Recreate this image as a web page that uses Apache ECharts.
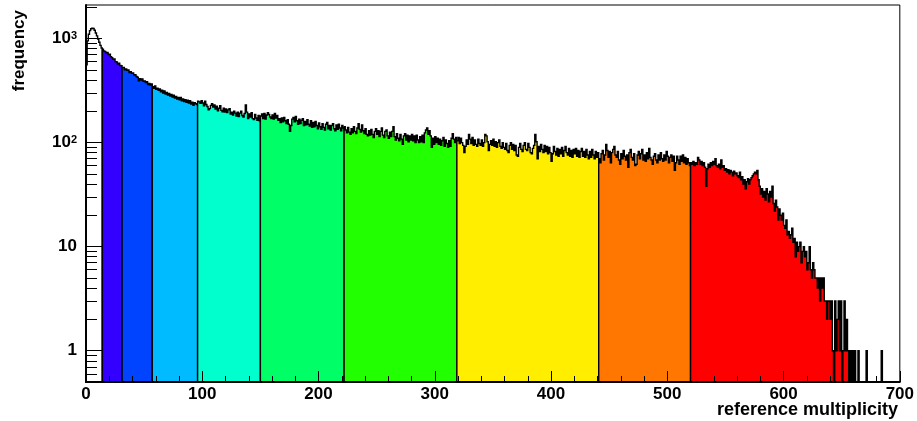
<!DOCTYPE html>
<html><head><meta charset="utf-8">
<script src="https://cdn.jsdelivr.net/npm/echarts@6/dist/echarts.min.js"></script>
<style>html,body{margin:0;padding:0;background:#fff}#c{width:917px;height:421px}</style>
</head><body><div id="c"></div>
<script>
// frequency per reference-multiplicity bin (bin i covers [i, i+1))
const counts = [
/*0*/   560, 950,1100,1190,1240,1260,1250,1200,1130,1060,
/*10*/  990, 920, 860, 810, 790, 760, 750, 730, 735, 700,
/*20*/  705, 670, 655, 630, 635, 600, 595, 570, 580, 550,
/*30*/  548, 525, 528, 500, 510, 495, 498, 470, 480, 462,
/*40*/  468, 445, 450, 432, 425, 392, 410, 400, 408, 388,
/*50*/  392, 378, 385, 362, 370, 358, 365, 345, 332, 350,
/*60*/  326, 334, 318, 328, 308, 318, 300, 314, 292, 304,
/*70*/  286, 296, 280, 290, 274, 286, 268, 278, 262, 272,
/*80*/  258, 272, 252, 262, 248, 258, 244, 256, 240, 252,
/*90*/  234, 244, 228, 242, 236, 232, 250, 246, 238, 252,
/*100*/ 240, 226, 250, 232, 222, 206, 212, 228, 236, 220,
/*110*/ 230, 210, 224, 202, 214, 226, 204, 198, 214, 196,
/*120*/ 210, 194, 206, 212, 188, 196, 184, 200, 192, 180,
/*130*/ 196, 178, 192, 200, 182, 176, 190, 230, 196, 170,
/*140*/ 188, 176, 194, 170, 166, 186, 172, 164, 182, 162,
/*150*/ 180, 188, 170, 190, 168, 184, 194, 186, 176, 170,
/*160*/ 184, 168, 190, 172, 182, 164, 170, 156, 172, 158,
/*170*/ 174, 162, 152, 166, 150, 128, 146, 168, 174, 158,
/*180*/ 178, 162, 150, 168, 152, 164, 170, 146, 160, 148,
/*190*/ 166, 150, 144, 162, 140, 156, 142, 160, 146, 136,
/*200*/ 154, 142, 134, 152, 140, 132, 150, 156, 136, 146,
/*210*/ 132, 146, 152, 136, 130, 148, 134, 150, 138, 130,
/*220*/ 146, 138, 142, 132, 124, 140, 126, 120, 136, 124,
/*230*/ 142, 128, 122, 138, 152, 134, 126, 148, 130, 122,
/*240*/ 136, 120, 116, 130, 118, 134, 120, 112, 128, 136,
/*250*/ 120, 130, 114, 128, 138, 118, 112, 128, 132, 116,
/*260*/ 110, 126, 114, 128, 142, 114, 106, 122, 110, 104,
/*270*/ 120, 108,  96, 116, 122, 106, 118, 102, 116, 106,
/*280*/ 120, 104, 116, 100, 118, 106, 100, 114, 102, 118,
/*290*/ 100, 124, 132, 138, 120, 130, 116,  90, 110,  96,
/*300*/ 114, 100, 110,  96, 108,  94, 104, 112,  92, 106,
/*310*/  98,  90, 104,  92, 110, 122, 108, 100, 112, 104,
/*320*/ 112,  98, 110, 100,  94,  80,  92, 106,  96, 120,
/*330*/ 108,  98, 112,  94, 106,  96,  92, 108,  98,  94,
/*340*/ 106,  92, 100, 120, 116, 102,  84,  96, 104,  94,
/*350*/ 108,  92, 102,  90, 100, 106,  92,  88, 100,  90,
/*360*/  86,  98,  84,  80,  94, 100,  86,  96,  84,  94,
/*370*/  76,  74,  90,  98,  86,  82,  94, 100,  86,  84,
/*380*/  98,  90,  80,  78,  88,  94, 120, 102,  70,  92,
/*390*/  82,  96,  86,  80,  94,  82,  92,  78,  90,  80,
/*400*/  66,  78,  92,  82,  76,  88,  74,  86,  78,  90,
/*410*/  74,  84,  92,  80,  76,  88,  74,  84,  72,  86,
/*420*/  78,  88,  74,  84,  72,  82,  88,  74,  82,  72,
/*430*/  86,  76,  70,  82,  72,  86,  76,  70,  82,  72,
/*440*/  80,  70,  64,  78,  84,  68,  76,  96,  84,  72,
/*450*/  82,  64,  80,  86,  92,  76,  72,  82,  68,  62,
/*460*/  78,  70,  84,  74,  68,  76,  58,  80,  86,  72,
/*470*/  68,  78,  60,  62,  76,  82,  70,  78,  86,  68,
/*480*/  76,  66,  80,  70,  88,  72,  68,  62,  74,  78,
/*490*/  68,  64,  76,  68,  80,  70,  66,  76,  68,  82,
/*500*/  74,  64,  72,  76,  66,  74,  54,  64,  74,  68,
/*510*/  62,  74,  66,  76,  64,  72,  62,  70,  64,  60,
/*520*/  64,  62,  66,  60,  64,  62,  72,  68,  62,  66,
/*530*/  60,  64,  58,  38,  56,  62,  58,  64,  60,  66,
/*540*/  62,  70,  60,  58,  62,  56,  68,  58,  60,  54,
/*550*/  56,  52,  55,  50,  54,  52,  48,  53,  50,  51,
/*560*/  48,  46,  52,  44,  47,  40,  44,  36,  42,  45,
/*570*/  40,  44,  46,  48,  50,  52,  50,  54,  44,  38,
/*580*/  32,  36,  30,  34,  28,  36,  32,  27,  34,  30,
/*590*/  38,  26,  22,  28,  24,  18,  23,  20,  18,  21,
/*600*/  16,  15,  18,  13,  14,  12,  13,  15,  11,  12,
/*610*/   8,  11,   9,  10,  11,   7,   9,  10,   8,   9,
/*620*/   6,   7,  10,   6,   5,   7,   6,   5,   5,   4,
/*630*/   5,   3,   5,   4,   5,   3,   3,   2,   3,   3,
/*640*/   2,   3,   1,   0,   3,   1,   2,   3,   1,   3,
/*650*/   0,   1,   3,   1,   2,   1,   0,   1,   0,   1,
/*660*/   0,   1,   0,   0,   1,   0,   0,   0,   0,   0,
/*670*/   0,   1,   0,   0,   0,   0,   0,   0,   0,   0,
/*680*/   0,   0,   0,   0,   1,   0,   0,   0,   0,   0,
/*690*/   0,   0,   0,   0,   0,   0,   0,   0,   0,   0
];
// centrality class edges (in reference multiplicity) and fill colours
const regionEdges  = [0, 14, 31, 57, 96, 150, 222, 319, 441, 520, 700];
const regionColors = ['#ffffff','#3300ff','#0044ff','#00bbff','#00ffcc','#00ff66','#22ff00','#ffee00','#ff7700','#ff0000'];
// axis ticks
const xTickValues = [0, 100, 200, 300, 400, 500, 600, 700];
const yMajorTicks = [1, 10, 100, 1000];
const yTickLabels = ['1', '10', '10{s|2}', '10{s|3}'];
const yMinorTicks = [0.6,0.7,0.8,0.9, 2,3,4,5,6,7,8,9, 20,30,40,50,60,70,80,90, 200,300,400,500,600,700,800,900, 2000];
const xTitle = 'reference multiplicity';
const yTitle = 'frequency';

const FONT = '"Liberation Sans", Arial, Helvetica, sans-serif';
const GRID = {left: 86, right: 15, top: 5, bottom: 39};
const Y_MIN = 0.5, Y_MAX = 2100;

const chart = echarts.init(document.getElementById('c'), null, {renderer: 'canvas'});
const regionData = regionColors.map((c, k) => [regionEdges[k], regionEdges[k + 1], k]);

function renderRegion(params, api) {
  const k = api.value(2);
  const s = regionEdges[k], e = regionEdges[k + 1];
  const cs = params.coordSys;
  const bottom = cs.y + cs.height;
  const top = cs.y;
  const pts = [[api.coord([s, 1])[0], bottom]];
  for (let i = s; i < e; i++) {
    const v = counts[i];
    const x0 = api.coord([i, 1])[0];
    const x1 = api.coord([i + 1, 1])[0];
    let y = v > 0 ? api.coord([i, v])[1] : bottom;
    y = Math.max(top, Math.min(bottom, y));
    pts.push([x0, y], [x1, y]);
  }
  pts.push([api.coord([e, 1])[0], bottom]);
  return {
    type: 'polygon',
    shape: {points: pts},
    style: {fill: regionColors[k], stroke: '#000', lineWidth: 1.4, lineJoin: 'miter'}
  };
}

chart.setOption({
  animation: false,
  backgroundColor: '#fff',
  grid: [
    Object.assign({show: true, borderColor: '#000', borderWidth: 1, backgroundColor: '#fff'}, GRID),
    Object.assign({show: false}, GRID)
  ],
  xAxis: [
    {type: 'value', gridIndex: 0, min: 0, max: 700, interval: 100, z: 10,
     axisLine: {show: true, lineStyle: {color: '#000', width: 2}},
     axisTick: {show: true, inside: true, length: 11, customValues: xTickValues, lineStyle: {color: '#000', width: 1}},
     minorTick: {show: true, splitNumber: 5, length: 6, lineStyle: {color: '#000', width: 1}},
     axisLabel: {customValues: xTickValues, color: '#000', fontSize: 17, fontWeight: 'bold', fontFamily: FONT, margin: 4},
     splitLine: {show: false}},
    {type: 'value', gridIndex: 1, min: 0, max: 700, show: false}
  ],
  yAxis: [
    {type: 'log', logBase: 10, gridIndex: 0, min: Y_MIN, max: Y_MAX, z: 10,
     axisLine: {show: true, lineStyle: {color: '#000', width: 2}},
     axisTick: {show: true, inside: true, length: 16, customValues: yMajorTicks, lineStyle: {color: '#000', width: 1}},
     minorTick: {show: false},
     axisLabel: {customValues: yMajorTicks, color: '#000', fontSize: 17, fontWeight: 'bold', fontFamily: FONT, margin: 9,
       formatter: v => { const i = yMajorTicks.indexOf(v); return i >= 0 ? yTickLabels[i] : ''; },
       rich: {s: {fontSize: 11, fontWeight: 'bold', fontFamily: FONT, color: '#000', verticalAlign: 'top', lineHeight: 14}}},
     splitLine: {show: false}},
    {type: 'log', logBase: 10, gridIndex: 1, min: Y_MIN, max: Y_MAX, z: 10,
     axisLine: {show: false},
     axisTick: {show: true, inside: true, length: 11, customValues: yMinorTicks, lineStyle: {color: '#000', width: 1}},
     axisLabel: {show: false},
     splitLine: {show: false}}
  ],
  series: [{
    type: 'custom',
    xAxisIndex: 0, yAxisIndex: 0,
    renderItem: renderRegion,
    data: regionData,
    encode: {x: [0, 1]},
    z: 2
  }],
  graphic: [
    {type: 'text', right: 19, top: 401, z: 20,
     style: {text: xTitle, font: 'bold 18px ' + FONT, fill: '#000'}},
    {type: 'text', x: 19, y: 10, rotation: Math.PI / 2, z: 20,
     style: {text: yTitle, font: 'bold 17px ' + FONT, fill: '#000', align: 'right', verticalAlign: 'middle'}}
  ]
});
</script>
</body></html>
